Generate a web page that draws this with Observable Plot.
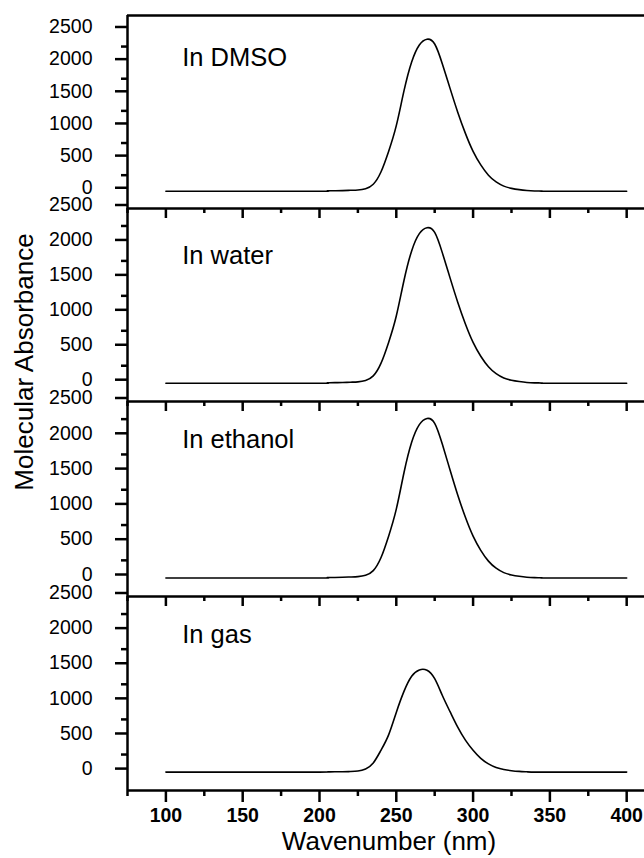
<!DOCTYPE html>
<html><head><meta charset="utf-8">
<script src="https://cdn.jsdelivr.net/npm/d3@7"></script>
<script src="https://cdn.jsdelivr.net/npm/@observablehq/plot@0.6"></script>
<style>
body{margin:0;background:#fff;}
#fig{position:relative;width:644px;height:858px;overflow:hidden;background:#fff;font-family:"Liberation Sans",Arial,sans-serif;}
#fig svg{position:absolute;left:0;}
</style></head><body><div id="fig"></div>
<script>
// wavelengths (nm)
const wavelength = [100,150,200,205,210,215,220,225,230,235,240,245,250,255,260,265,270,275,280,285,290,295,300,305,310,315,320,325,330,335,340,345,350,400];
// molecular absorbance
const dmso    = [0,0,0,5,8,10,15,20,40,110,300,620,1020,1560,2010,2275,2365,2290,1980,1600,1230,900,620,410,250,145,80,45,25,12,5,2,0,0];
const water   = [0,0,0,5,8,9,14,19,38,104,283,584,961,1470,1893,2140,2225,2157,1865,1507,1159,848,584,386,236,137,75,42,24,11,5,2,0,0];
const ethanol = [0,0,0,5,8,10,14,19,38,105,287,593,975,1491,1922,2172,2260,2190,1893,1530,1176,860,593,392,239,139,76,43,24,11,5,2,0,0];
const gas     = [0,0,0,2,5,5,8,15,45,130,310,530,850,1150,1365,1455,1450,1330,1090,860,640,455,310,195,117,66,37,20,10,4,0,0,0,0];
const series = [dmso, water, ethanol, gas];
const panelLabels = ["In DMSO","In water","In ethanol","In gas"];
const yMajorTicks = [0,500,1000,1500,2000,2500];
const yMinorTicks = [250,750,1250,1750,2250];
const xMajorTicks = [100,150,200,250,300,350,400];
const xMinorTicks = [75,125,175,225,275,325,375];
const xTitle = "Wavenumber (nm)";
const yTitle = "Molecular Absorbance";

// layout (pixels) and per-panel y domains
const panels = [
  {top:15,  bottom:208, domain:[-268,2733], labelY:50},
  {top:208, bottom:401, domain:[-262,2500], labelY:55},
  {top:401, bottom:596, domain:[-262,2500], labelY:46},
  {top:596, bottom:790, domain:[-262,2500], labelY:46}
];
const W = 644, H = 858, ML = 127, MT = 15;
const fig = document.getElementById("fig");
const font = "Liberation Sans, Arial, sans-serif";
const blank = () => "";

panels.forEach((p, i) => {
  const isLast = i === panels.length - 1;
  const mb = isLast ? H - p.bottom : 15;
  const data = wavelength.map((w, j) => ({w, a: series[i][j]}));
  const svg = Plot.plot({
    width: W, height: MT + (p.bottom - p.top) + mb,
    marginLeft: ML, marginRight: 0, marginTop: MT, marginBottom: mb,
    x: {domain: [75, 411.6]},
    y: {domain: p.domain},
    style: {background: "transparent", overflow: "visible", fontFamily: font, color: "#000"},
    marks: [
      Plot.ruleY([p.domain[0]], {stroke: "#000", strokeWidth: 2.5}),
      i === 0 ? Plot.ruleY([p.domain[1]], {stroke: "#000", strokeWidth: 2.5}) : null,
      Plot.ruleX([75], {stroke: "#000", strokeWidth: 2.5}),
      Plot.axisY({ticks: yMajorTicks, tickSize: 12, tickPadding: 23, tickFormat: d3.format("d"), fontSize: 19.5, strokeWidth: 2.5, dy: -3.5, label: null}),
      Plot.axisY({ticks: yMinorTicks, tickSize: 6, tickFormat: blank, strokeWidth: 2.5, label: null}),
      Plot.axisX({ticks: xMajorTicks, tickSize: isLast ? 12 : 10, tickPadding: 6, tickFormat: isLast ? d3.format("d") : blank, fontSize: 19.5, fontWeight: "bold", strokeWidth: 2.5, label: null}),
      Plot.axisX({ticks: xMinorTicks, tickSize: isLast ? 6 : 5, tickFormat: blank, strokeWidth: 2.5, label: null}),
      Plot.line(data, {x: "w", y: "a", stroke: "#000", strokeWidth: 1.6, curve: "natural"}),
      Plot.text([panelLabels[i]], {text: d => d, frameAnchor: "top-left", dx: 54.7, dy: p.labelY, lineAnchor: "bottom", textAnchor: "start", fontSize: 25.5, fill: "#000"})
    ]
  });
  svg.style.top = (p.top - MT) + "px";
  fig.appendChild(svg);
});

// axis titles overlay
const ov = d3.select(fig).append("svg").attr("width", W).attr("height", H)
  .style("top", "0px").style("pointer-events", "none").style("font-family", font);
ov.append("text").attr("x", 389).attr("y", 850).attr("text-anchor", "middle")
  .attr("font-size", 26).attr("fill", "#000").text(xTitle);
ov.append("text").attr("transform", "translate(33,362) rotate(-90)").attr("text-anchor", "middle")
  .attr("font-size", 26).attr("fill", "#000").text(yTitle);
</script></body></html>
